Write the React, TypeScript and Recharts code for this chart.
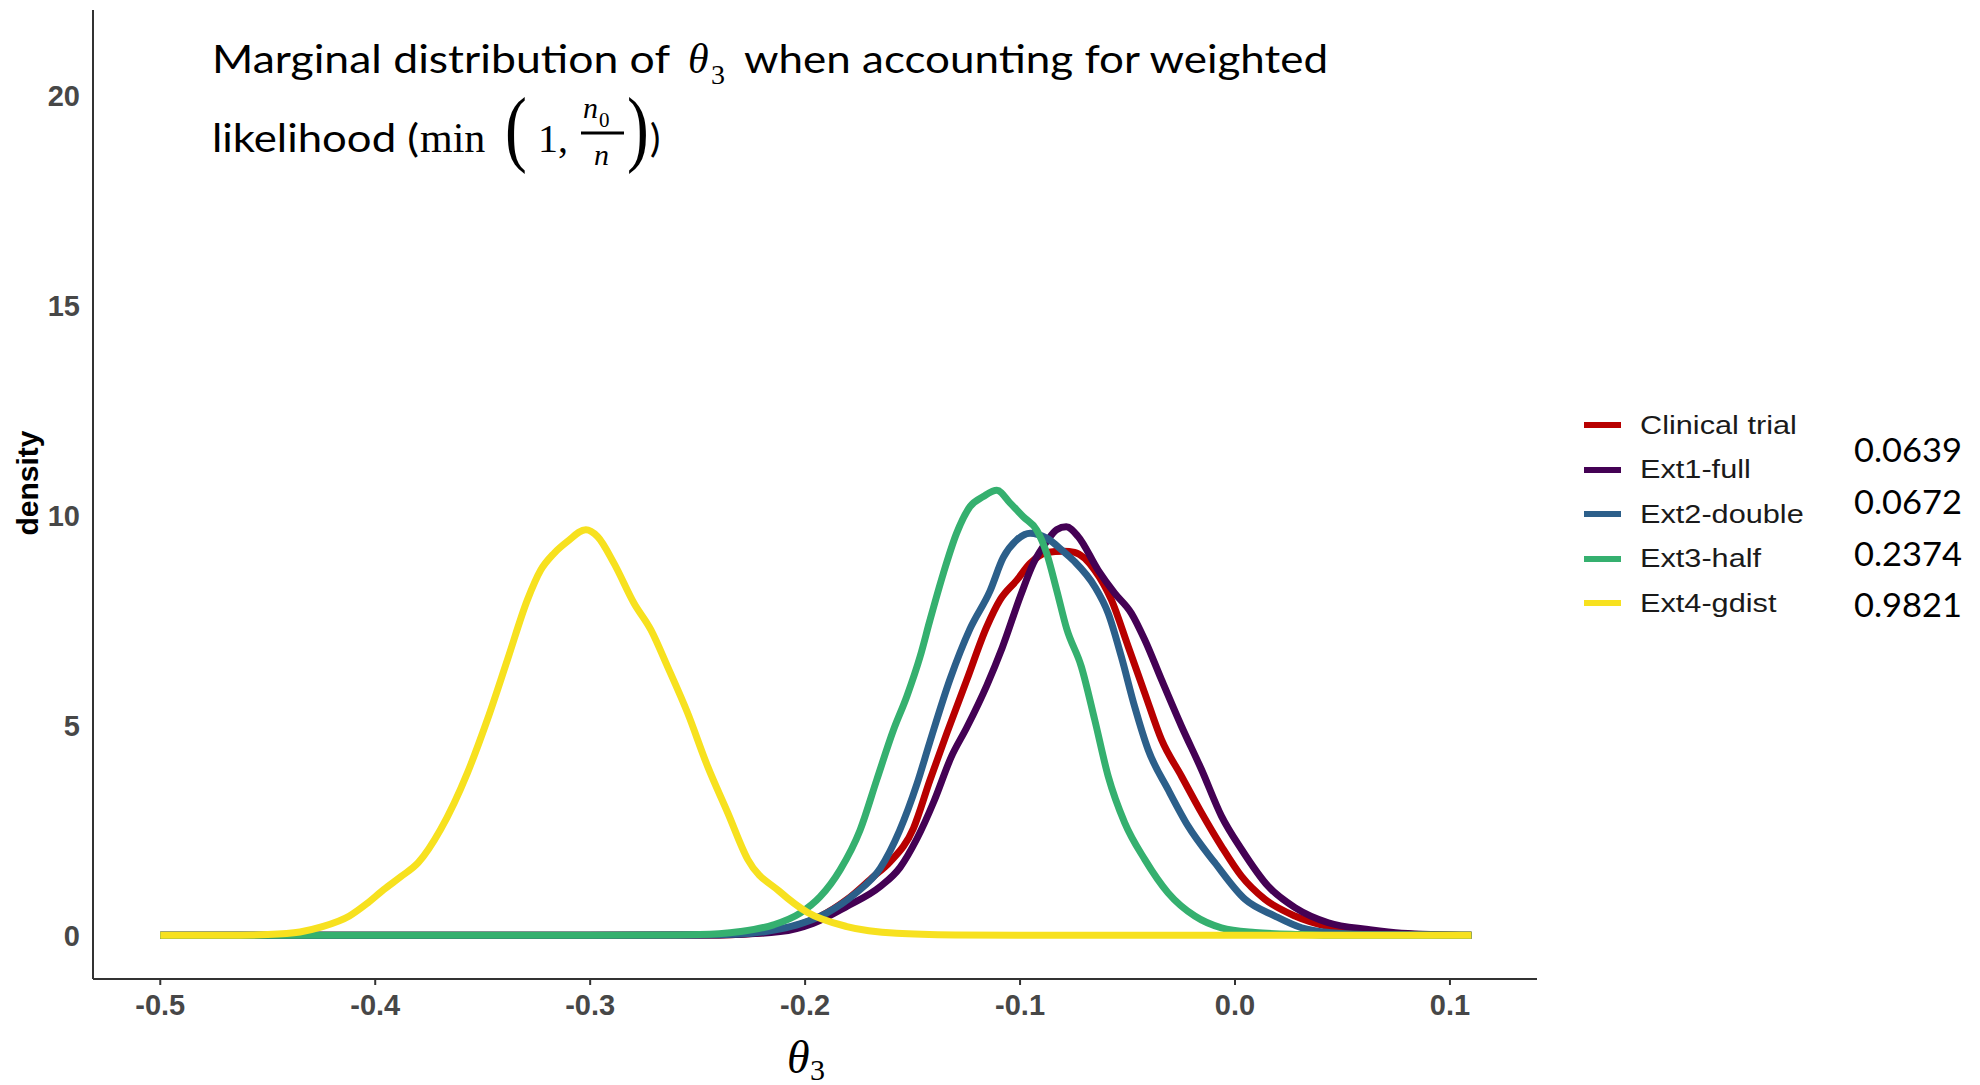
import React from "react";
import { LineChart, Line, XAxis, YAxis, Label } from "recharts";

type Pt = { x: number; y: number };

// density curves (x = theta3, y = density)
const clinicalTrial: Pt[] = [
  { x: -0.5, y: 0 }, { x: -0.3, y: 0 }, { x: -0.24, y: 0.01 }, { x: -0.22, y: 0.06 },
  { x: -0.2054, y: 0.21 }, { x: -0.193, y: 0.45 }, { x: -0.1806, y: 0.85 }, { x: -0.1682, y: 1.4 },
  { x: -0.1605, y: 1.75 }, { x: -0.1496, y: 2.55 }, { x: -0.1419, y: 3.7 }, { x: -0.1341, y: 4.81 },
  { x: -0.1248, y: 6.08 }, { x: -0.1155, y: 7.35 }, { x: -0.1093, y: 7.99 }, { x: -0.1015, y: 8.46 },
  { x: -0.0953, y: 8.86 }, { x: -0.0876, y: 9.12 }, { x: -0.0798, y: 9.15 }, { x: -0.0746, y: 9.12 },
  { x: -0.0653, y: 8.7 }, { x: -0.0575, y: 7.99 }, { x: -0.0497, y: 6.88 }, { x: -0.042, y: 5.77 },
  { x: -0.0342, y: 4.66 }, { x: -0.0249, y: 3.79 }, { x: -0.0156, y: 2.92 }, { x: -0.0063, y: 2.12 },
  { x: 0.003, y: 1.41 }, { x: 0.0139, y: 0.86 }, { x: 0.0279, y: 0.46 }, { x: 0.0434, y: 0.21 },
  { x: 0.062, y: 0.1 }, { x: 0.08, y: 0.03 }, { x: 0.11, y: 0 },
];

const ext1Full: Pt[] = [
  { x: -0.5, y: 0 }, { x: -0.3, y: 0 }, { x: -0.24, y: 0.01 }, { x: -0.2116, y: 0.09 },
  { x: -0.1961, y: 0.29 }, { x: -0.1806, y: 0.69 }, { x: -0.1651, y: 1.16 }, { x: -0.1558, y: 1.62 },
  { x: -0.148, y: 2.3 }, { x: -0.14, y: 3.2 }, { x: -0.132, y: 4.25 }, { x: -0.1248, y: 4.95 },
  { x: -0.1155, y: 5.95 }, { x: -0.1083, y: 6.85 }, { x: -0.0997, y: 8.1 }, { x: -0.0938, y: 8.86 },
  { x: -0.0876, y: 9.38 }, { x: -0.083, y: 9.66 }, { x: -0.0785, y: 9.73 }, { x: -0.073, y: 9.5 },
  { x: -0.0637, y: 8.7 }, { x: -0.056, y: 8.15 }, { x: -0.0482, y: 7.67 }, { x: -0.042, y: 7.04 },
  { x: -0.0342, y: 6.09 }, { x: -0.0249, y: 4.98 }, { x: -0.0156, y: 3.95 }, { x: -0.0063, y: 2.84 },
  { x: 0.003, y: 2.05 }, { x: 0.0154, y: 1.17 }, { x: 0.0279, y: 0.66 }, { x: 0.0434, y: 0.3 },
  { x: 0.062, y: 0.14 }, { x: 0.0775, y: 0.05 }, { x: 0.11, y: 0 },
];

const ext2Double: Pt[] = [
  { x: -0.5, y: 0 }, { x: -0.3, y: 0 }, { x: -0.25, y: 0.01 }, { x: -0.225, y: 0.05 },
  { x: -0.212, y: 0.15 }, { x: -0.202, y: 0.28 }, { x: -0.19, y: 0.53 }, { x: -0.177, y: 0.98 },
  { x: -0.165, y: 1.6 }, { x: -0.156, y: 2.5 }, { x: -0.148, y: 3.6 }, { x: -0.142, y: 4.6 },
  { x: -0.1326, y: 6.1 }, { x: -0.1233, y: 7.3 }, { x: -0.114, y: 8.2 }, { x: -0.1078, y: 9.0 },
  { x: -0.1015, y: 9.42 }, { x: -0.0953, y: 9.58 }, { x: -0.0876, y: 9.46 }, { x: -0.08, y: 9.15 },
  { x: -0.0746, y: 8.9 }, { x: -0.0653, y: 8.31 }, { x: -0.059, y: 7.67 }, { x: -0.0529, y: 6.64 },
  { x: -0.0467, y: 5.45 }, { x: -0.0404, y: 4.42 }, { x: -0.0311, y: 3.47 }, { x: -0.0218, y: 2.6 },
  { x: -0.0094, y: 1.73 }, { x: 0.0046, y: 0.86 }, { x: 0.0186, y: 0.46 }, { x: 0.031, y: 0.18 },
  { x: 0.045, y: 0.06 }, { x: 0.06, y: 0.02 }, { x: 0.11, y: 0 },
];

const ext3Half: Pt[] = [
  { x: -0.5, y: 0 }, { x: -0.3, y: 0 }, { x: -0.26, y: 0.01 }, { x: -0.24, y: 0.04 },
  { x: -0.23, y: 0.09 }, { x: -0.2147, y: 0.25 }, { x: -0.2023, y: 0.53 }, { x: -0.193, y: 0.92 },
  { x: -0.1837, y: 1.56 }, { x: -0.1744, y: 2.51 }, { x: -0.1667, y: 3.7 }, { x: -0.1589, y: 4.89 },
  { x: -0.1527, y: 5.69 }, { x: -0.1465, y: 6.64 }, { x: -0.1419, y: 7.51 }, { x: -0.1357, y: 8.62 },
  { x: -0.1295, y: 9.58 }, { x: -0.1233, y: 10.21 }, { x: -0.1171, y: 10.45 }, { x: -0.1108, y: 10.6 },
  { x: -0.1047, y: 10.3 }, { x: -0.0985, y: 9.97 }, { x: -0.0922, y: 9.65 }, { x: -0.0876, y: 9.1 },
  { x: -0.083, y: 8.23 }, { x: -0.0783, y: 7.3 }, { x: -0.0715, y: 6.4 }, { x: -0.0653, y: 5.14 },
  { x: -0.059, y: 3.79 }, { x: -0.0513, y: 2.68 }, { x: -0.042, y: 1.81 }, { x: -0.0311, y: 1.01 },
  { x: -0.0187, y: 0.46 }, { x: -0.0063, y: 0.18 }, { x: 0.0093, y: 0.07 }, { x: 0.03, y: 0.02 },
  { x: 0.05, y: 0 }, { x: 0.11, y: 0 },
];

const ext4Gdist: Pt[] = [
  { x: -0.5, y: 0 }, { x: -0.47, y: 0 }, { x: -0.45, y: 0.02 }, { x: -0.435, y: 0.08 },
  { x: -0.425, y: 0.2 }, { x: -0.412, y: 0.46 }, { x: -0.404, y: 0.75 }, { x: -0.396, y: 1.09 },
  { x: -0.388, y: 1.4 }, { x: -0.38, y: 1.73 }, { x: -0.3696, y: 2.52 }, { x: -0.3571, y: 3.87 },
  { x: -0.3478, y: 5.14 }, { x: -0.3385, y: 6.56 }, { x: -0.3292, y: 7.99 }, { x: -0.323, y: 8.7 },
  { x: -0.3168, y: 9.1 }, { x: -0.3106, y: 9.38 }, { x: -0.302, y: 9.66 }, { x: -0.2966, y: 9.5 },
  { x: -0.2889, y: 8.86 }, { x: -0.2796, y: 7.91 }, { x: -0.2718, y: 7.28 }, { x: -0.264, y: 6.4 },
  { x: -0.2547, y: 5.3 }, { x: -0.2454, y: 4.03 }, { x: -0.236, y: 2.92 }, { x: -0.2267, y: 1.81 },
  { x: -0.212, y: 1.05 }, { x: -0.199, y: 0.55 }, { x: -0.1806, y: 0.21 }, { x: -0.1574, y: 0.05 },
  { x: -0.13, y: 0.01 }, { x: -0.1, y: 0 }, { x: 0.11, y: 0 },
];

const seriesNames = ["Clinical trial", "Ext1-full", "Ext2-double", "Ext3-half", "Ext4-gdist"];
const seriesColors = ["#B80000", "#440154", "#2C5F8A", "#35B06F", "#F7E11F"];
const seriesData = [clinicalTrial, ext1Full, ext2Double, ext3Half, ext4Gdist];

const pValues = ["0.0639", "0.0672", "0.2374", "0.9821"];
const pValueRowY = [451, 503, 555, 606];

const xTicks = [-0.5, -0.4, -0.3, -0.2, -0.1, 0.0, 0.1];
const yTicks = [0, 5, 10, 15, 20];

const tickStyle = {
  fontFamily: "'Liberation Sans', Arial, sans-serif",
  fontSize: 29,
  fontWeight: 700,
  fill: "#474747",
};

const calibri = "Lato, 'Open Sans', sans-serif";
const mathFont = "'Liberation Serif', 'DejaVu Serif', serif";

function LegendBox() {
  return (
    <div
      style={{
        position: "absolute",
        left: 1584,
        top: 403,
        fontFamily: "'Liberation Sans', Arial, sans-serif",
      }}
    >
      {seriesNames.map((name, i) => (
        <div key={name} style={{ display: "flex", alignItems: "center", height: 44.5 }}>
          <div style={{ width: 37, height: 6, background: seriesColors[i] }} />
          <span
            style={{
              marginLeft: 19,
              fontSize: 26,
              color: "#1a1a1a",
              display: "inline-block",
              transform: "scaleX(1.18)",
              transformOrigin: "left center",
              whiteSpace: "nowrap",
            }}
          >
            {name}
          </span>
        </div>
      ))}
    </div>
  );
}

function Annotations() {
  return (
    <svg
      width={1980}
      height={1085}
      style={{ position: "absolute", left: 0, top: 0, pointerEvents: "none" }}
    >
      {/* title line 1 */}
      <text x={212} y={73} fontFamily={calibri} fontSize={39} textLength={458} lengthAdjust="spacingAndGlyphs">
        Marginal distribution of
      </text>
      <text x={688} y={73} fontFamily={mathFont} fontStyle="italic" fontSize={42}>θ</text>
      <text x={711} y={84} fontFamily={mathFont} fontSize={28}>3</text>
      <text x={744} y={73} fontFamily={calibri} fontSize={39} textLength={584} lengthAdjust="spacingAndGlyphs">
        when accounting for weighted
      </text>
      {/* title line 2 */}
      <text x={212} y={152} fontFamily={calibri} fontSize={39} textLength={207} lengthAdjust="spacingAndGlyphs">
        likelihood (
      </text>
      <text x={420} y={152} fontFamily={mathFont} fontSize={42}>min</text>
      <text x={505} y={156} fontFamily={mathFont} fontSize={84} transform="translate(505 0) scale(0.78 1) translate(-505 0)">(</text>
      <text x={538} y={152} fontFamily={mathFont} fontSize={40}>1,</text>
      <text x={583} y={118} fontFamily={mathFont} fontStyle="italic" fontSize={30}>n</text>
      <text x={599} y={127} fontFamily={mathFont} fontSize={21}>0</text>
      <line x1={581} x2={624} y1={133} y2={133} stroke="#000" strokeWidth={3} />
      <text x={594} y={165} fontFamily={mathFont} fontStyle="italic" fontSize={30}>n</text>
      <text x={627} y={156} fontFamily={mathFont} fontSize={84} transform="translate(627 0) scale(0.78 1) translate(-627 0)">)</text>
      <text x={650} y={152} fontFamily={calibri} fontSize={39}>)</text>
      {/* weights next to the legend */}
      {pValues.map((v, i) => (
        <text
          key={v}
          x={1854}
          y={pValueRowY[i] + 11}
          fontFamily={calibri}
          fontSize={33}
          textLength={108}
          lengthAdjust="spacingAndGlyphs"
        >
          {v}
        </text>
      ))}
    </svg>
  );
}

export default function App() {
  return (
    <div style={{ position: "absolute", left: 0, top: 0, width: 1980, height: 1085, background: "#fff" }}>
      <LineChart width={1980} height={1085} margin={{ top: 10, right: 443, bottom: 0, left: 13 }}>
        <XAxis
          type="number"
          dataKey="x"
          domain={[-0.5313, 0.1405]}
          ticks={xTicks}
          allowDataOverflow
          height={106}
          tickFormatter={(v: number) => v.toFixed(1)}
          tick={tickStyle}
          tickSize={6}
          tickMargin={9}
          axisLine={{ stroke: "#333", strokeWidth: 2 }}
          tickLine={{ stroke: "#333", strokeWidth: 2 }}
        >
          <Label
            content={({ viewBox }: any) => {
              const cx = viewBox.x + viewBox.width / 2 - 28;
              return (
                <g>
                  <text x={cx} y={1073} fontFamily={mathFont} fontStyle="italic" fontSize={46}>θ</text>
                  <text x={cx + 23} y={1080} fontFamily={mathFont} fontSize={30}>3</text>
                </g>
              );
            }}
          />
        </XAxis>
        <YAxis
          type="number"
          domain={[-1.04, 22.04]}
          ticks={yTicks}
          allowDataOverflow
          width={80}
          tick={tickStyle}
          tickLine={false}
          tickSize={0}
          tickMargin={13}
          axisLine={{ stroke: "#333", strokeWidth: 2 }}
        >
          <Label
            content={() => (
              <text
                x={38}
                y={483}
                transform="rotate(-90 38 483)"
                textAnchor="middle"
                fontFamily="'Liberation Sans', Arial, sans-serif"
                fontWeight={700}
                fontSize={30}
                fill="#000"
              >
                density
              </text>
            )}
          />
        </YAxis>
        {seriesNames.map((name, i) => (
          <Line
            key={name}
            name={name}
            data={seriesData[i]}
            dataKey="y"
            type="monotone"
            stroke={seriesColors[i]}
            strokeWidth={7}
            dot={false}
            activeDot={false}
            strokeLinejoin="round"
            isAnimationActive={false}
          />
        ))}
      </LineChart>
      <LegendBox />
      <Annotations />
    </div>
  );
}
